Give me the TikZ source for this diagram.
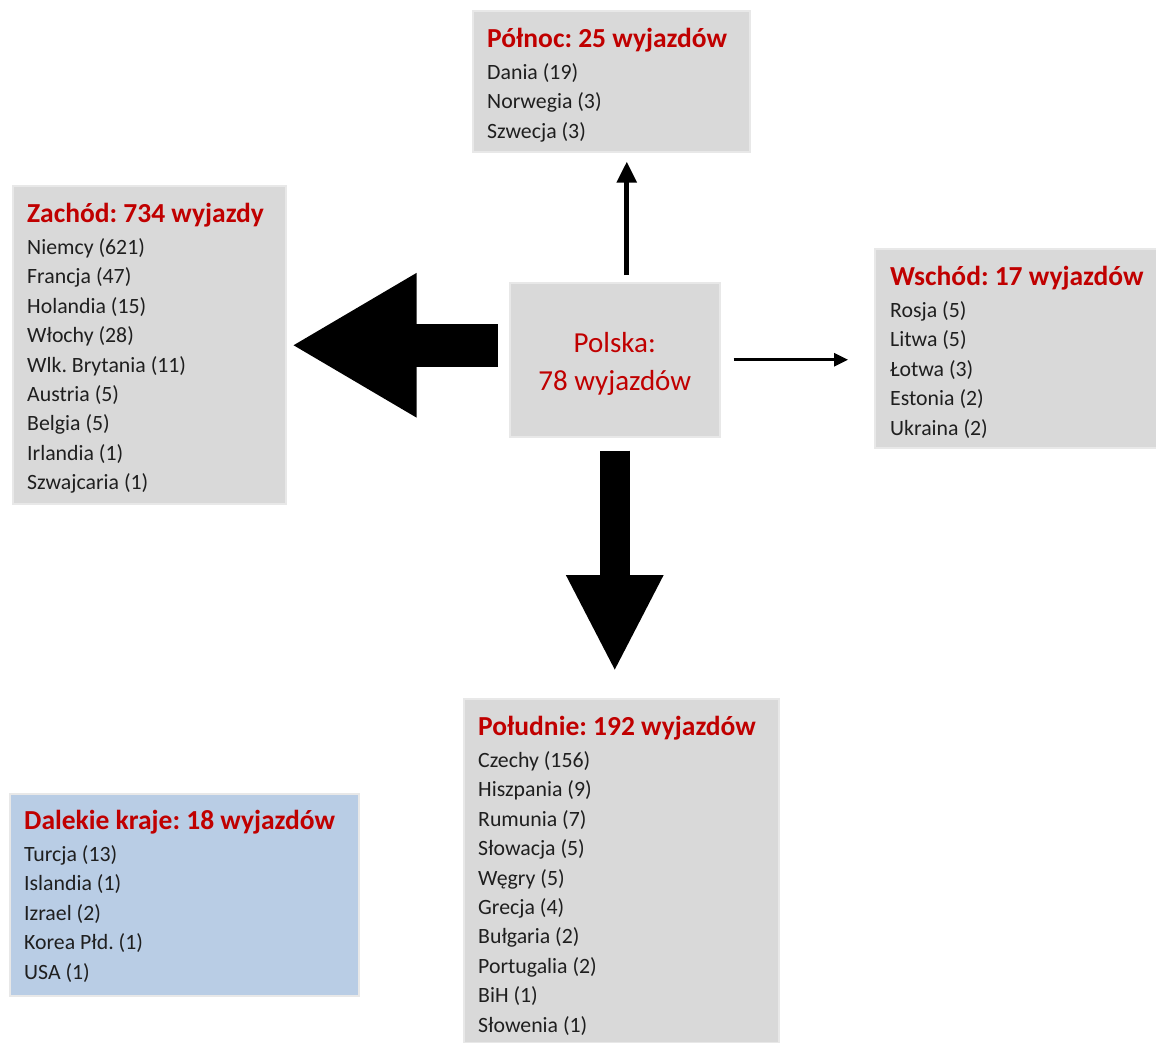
\documentclass[tikz,border=0pt]{standalone}
\usepackage{fontspec}
\setmainfont{Carlito}
\usetikzlibrary{arrows.meta,calc}
\definecolor{boxgrey}{HTML}{D9D9D9}
\definecolor{boxblue}{HTML}{B9CDE5}
\definecolor{boxedge}{HTML}{E8E8E8}
\definecolor{titlered}{HTML}{C00000}
\newcommand{\ttl}[1]{{\fontsize{27.5}{29}\selectfont\bfseries\color{titlered}#1}}
\frenchspacing
\begin{document}
\begin{tikzpicture}[x=1pt,y=-1pt,
  box/.style={draw=boxedge, line width=1.5pt, fill=boxgrey, inner sep=0pt, anchor=north west},
  txt/.style={anchor=north west, align=left, inner sep=0pt, text=black!88,
    font=\fontsize{21.8}{29.4}\selectfont}]
\useasboundingbox (0,0) rectangle (1156,1042);
% boxes
\node[box, minimum width=277pt, minimum height=141pt] (polnoc) at (472,10) {};
\node[box, minimum width=273pt, minimum height=318pt] (zachod) at (12,185) {};
\node[box, minimum width=210pt, minimum height=154pt] (polska) at (509,282) {};
\node[box, minimum width=282pt, minimum height=199pt] (wschod) at (874,248) {};
\node[box, minimum width=315pt, minimum height=344pt] (poludnie) at (463,698) {};
\node[box, fill=boxblue, minimum width=349pt, minimum height=202pt] (dalekie) at (9,793) {};
% texts
\node[txt] (polnoctxt) at (487,28) {\ttl{Północ: 25 wyjazdów}\\[2.5pt]
  Dania (19)\\ Norwegia (3)\\ Szwecja (3)};
\node[txt] (zachodtxt) at (27,203) {\ttl{Zachód: 734 wyjazdy}\\[2.5pt]
  Niemcy (621)\\ Francja (47)\\ Holandia (15)\\ Włochy (28)\\ Wlk. Brytania (11)\\
  Austria (5)\\ Belgia (5)\\ Irlandia (1)\\ Szwajcaria (1)};
\node[txt] (wschodtxt) at (890,266) {\ttl{Wschód: 17 wyjazdów}\\[2.5pt]
  Rosja (5)\\ Litwa (5)\\ Łotwa (3)\\ Estonia (2)\\ Ukraina (2)};
\node[txt] (poludnietxt) at (478,716) {\ttl{Południe: 192 wyjazdów}\\[2.5pt]
  Czechy (156)\\ Hiszpania (9)\\ Rumunia (7)\\ Słowacja (5)\\ Węgry (5)\\
  Grecja (4)\\ Bułgaria (2)\\ Portugalia (2)\\ BiH (1)\\ Słowenia (1)};
\node[txt] (dalekietxt) at (24,810) {\ttl{Dalekie kraje: 18 wyjazdów}\\[2.5pt]
  Turcja (13)\\ Islandia (1)\\ Izrael (2)\\ Korea Płd. (1)\\ USA (1)};
\node[align=center, inner sep=0pt, text=titlered, font=\fontsize{29}{38}\selectfont]
  (polskatxt) at ([yshift=-4pt]polska.center) {Polska:\\ 78 wyjazdów};
% arrows
\draw[line width=5pt, -{Triangle[length=21pt,width=19pt]}]
  ([xshift=12pt,yshift=7pt]polska.north) -- ([xshift=12pt,yshift=-9pt]polska.north |- polnoc.south);
\draw[line width=3pt, -{Triangle[length=14pt,width=13pt]}]
  ([xshift=13pt]polska.east) -- ([xshift=-26pt]polska.east -| wschod.west);
\draw[line width=43pt, -{Triangle[length=125pt,width=135pt]}]
  ([xshift=-11pt,yshift=14.5pt]polska.west) -- ([xshift=5pt,yshift=14.5pt]polska.west -| zachod.east);
\draw[line width=30pt, -{Triangle[length=97pt,width=90pt]}]
  ([yshift=-13pt]polska.south) -- ([yshift=26pt]polska.south |- poludnie.north);
\end{tikzpicture}
\end{document}
